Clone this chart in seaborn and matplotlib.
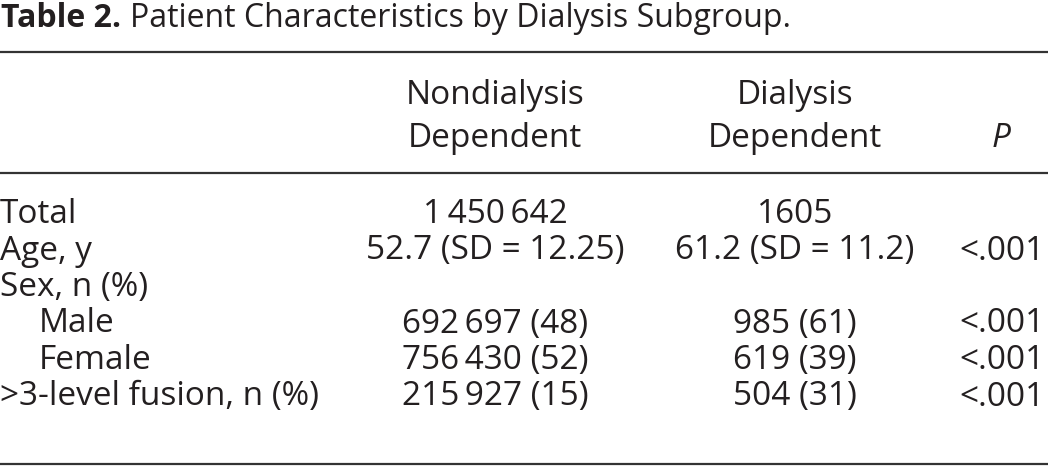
import matplotlib
matplotlib.use('Agg')
import matplotlib.pyplot as plt
import seaborn as sns

# Table content
title_bold = 'Table 2.'
title_rest = 'Patient Characteristics by Dialysis Subgroup.'
col_headers = ['Nondialysis\nDependent', 'Dialysis\nDependent', 'P']
row_labels = ['Total', 'Age, y', 'Sex, n (%)', 'Male', 'Female', '>3-level fusion, n (%)']
row_indent = [False, False, False, True, True, False]
nondialysis = ['1\u2009450\u2009642', '52.7 (SD = 12.25)', '', '692\u2009697 (48)', '756\u2009430 (52)', '215\u2009927 (15)']
dialysis = ['1605', '61.2 (SD = 11.2)', '', '985 (61)', '619 (39)', '504 (31)']
p_values = ['', '<.001', '', '<.001', '<.001', '<.001']

sns.set_theme(style='white')
plt.rcParams['font.family'] = ['Open Sans', 'DejaVu Sans']

ink = '#231f20'
fs = 24
title_fs = 23

fig = plt.figure(figsize=(10.48, 4.68), dpi=100)
ax = fig.add_axes([0, 0, 1, 1])
ax.set_xlim(0, 1048)
ax.set_ylim(468, 0)
ax.axis('off')

# title: bold label then plain text
t = ax.text(1, 27, title_bold + ' ', fontsize=title_fs, fontweight='bold', color=ink, va='baseline')
fig.canvas.draw()
bb = t.get_window_extent().transformed(ax.transData.inverted())
ax.text(bb.x1, 27, title_rest, fontsize=title_fs, color=ink, va='baseline')

# rules
for y in [52, 173, 464]:
    ax.axhline(y, color='#333333', lw=1.6)

# header, two lines each
col_x = [495, 795, 1001]
for x, h in zip(col_x, col_headers):
    style = 'italic' if h == 'P' else 'normal'
    lines = h.split('\n')
    for k, line in enumerate(reversed(lines)):
        ax.text(x, 147 - 43 * k, line, fontsize=fs, color=ink, ha='center',
                va='baseline', style=style)

# body
y0, dy = 223, 36.5
for i, lab in enumerate(row_labels):
    y = y0 + i * dy
    ax.text(39 if row_indent[i] else 0, y, lab, fontsize=fs, color=ink, va='baseline')
    ax.text(col_x[0], y, nondialysis[i], fontsize=fs, color=ink, ha='center', va='baseline')
    ax.text(col_x[1], y, dialysis[i], fontsize=fs, color=ink, ha='center', va='baseline')
    ax.text(1045, y, p_values[i], fontsize=fs, color=ink, ha='right', va='baseline')

fig.savefig('out.png', dpi=100, facecolor='white')
